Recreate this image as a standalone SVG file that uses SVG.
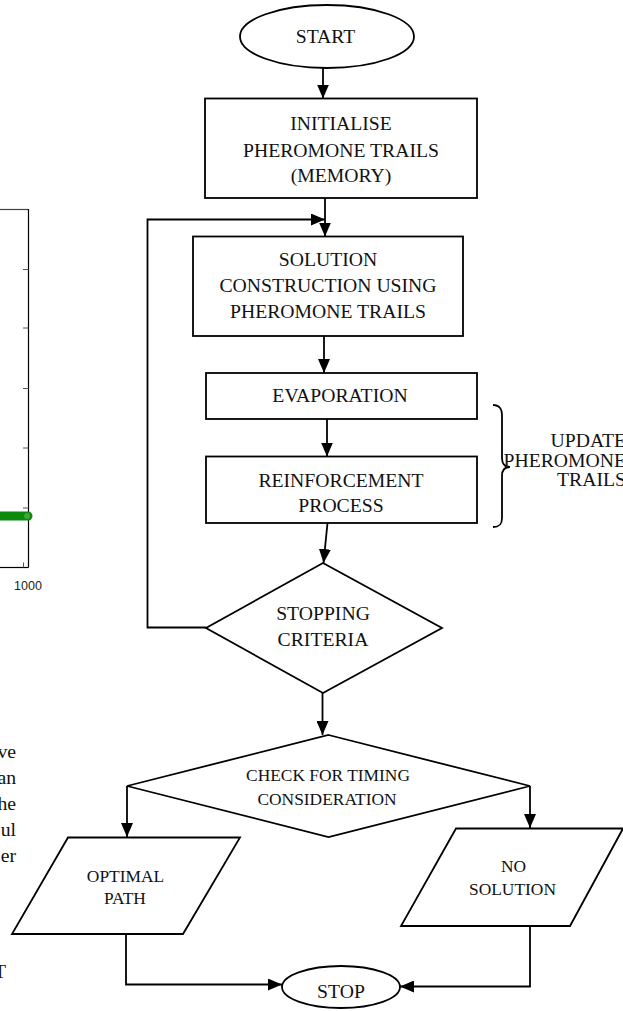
<svg xmlns="http://www.w3.org/2000/svg" width="623" height="1011" viewBox="0 0 623 1011">
  <defs>
    <marker id="arrow" markerUnits="userSpaceOnUse" markerWidth="14" markerHeight="12" refX="14" refY="6" orient="auto">
      <path d="M0,0 L14,6 L0,12 z" fill="#000"/>
    </marker>
    <style>
      .shape { fill: #fff; stroke: #000; stroke-width: 1.8; }
      .conn { fill: none; stroke: #000; stroke-width: 1.8; marker-end: url(#arrow); }
      .plain { fill: none; stroke: #000; stroke-width: 1.8; }
      .lbl { font-family: "Liberation Serif", "Times New Roman", serif; font-size: 19.7px; fill: #111; text-anchor: middle; }
      .sm { font-size: 17.4px; }
      .body { font-family: "Liberation Serif", "Times New Roman", serif; font-size: 19.7px; fill: #111; text-anchor: end; }
      .axis { stroke: #000; stroke-width: 1.2; fill: none; }
      .tick { stroke: #555; stroke-width: 1; }
    </style>
  </defs>
  <rect width="623" height="1011" fill="#fff"/>

  <!-- partial chart at the left margin -->
  <g id="chart-fragment">
    <line x1="0" y1="209.5" x2="28.5" y2="209.5" stroke="#444" stroke-width="1.2"/>
    <line class="axis" x1="28.5" y1="209" x2="28.5" y2="567.5"/>
    <line class="axis" x1="0" y1="567.5" x2="28.5" y2="567.5"/>
    <line class="tick" x1="23" y1="269.5" x2="28.5" y2="269.5"/>
    <line class="tick" x1="23" y1="328" x2="28.5" y2="328"/>
    <line class="tick" x1="23" y1="388.5" x2="28.5" y2="388.5"/>
    <line class="tick" x1="23" y1="448" x2="28.5" y2="448"/>
    <line class="tick" x1="23" y1="508" x2="28.5" y2="508"/>
    <line class="tick" x1="23.5" y1="562.5" x2="23.5" y2="567.5"/>
    <line x1="0" y1="516" x2="28" y2="516" stroke="#0b8a0b" stroke-width="9" stroke-linecap="round"/>
    <circle cx="27" cy="516" r="3" fill="#3aa83a"/>
    <text x="28" y="590" font-family="Liberation Sans, Arial, sans-serif" font-size="12.5" text-anchor="middle" fill="#222">1000</text>
  </g>

  <!-- line endings of the neighbouring paragraph -->
  <g id="paragraph-fragment">
    <text class="body" x="16" y="758">ve</text>
    <text class="body" x="16" y="784">an</text>
    <text class="body" x="16" y="810">he</text>
    <text class="body" x="16" y="836">ul</text>
    <text class="body" x="16" y="862">er</text>
    <text class="lbl" x="0" y="978">T</text>
  </g>

  <!-- connectors -->
  <g id="connectors">
    <line class="conn" x1="323" y1="68" x2="323" y2="98.5"/>
    <line class="conn" x1="325" y1="198" x2="325" y2="236.5"/>
    <polyline class="conn" points="206,627.5 147.5,627.5 147.5,219.5 325,219.5"/>
    <line class="conn" x1="324" y1="336" x2="324" y2="373"/>
    <line class="conn" x1="327" y1="419" x2="327" y2="456.5"/>
    <line class="conn" x1="327.5" y1="523" x2="323.5" y2="563"/>
    <line class="conn" x1="322.5" y1="693" x2="322.5" y2="735"/>
    <polyline class="conn" points="127,786 127,837"/>
    <polyline class="conn" points="530,786 530,828"/>
    <polyline class="conn" points="126,934 126,984.5 282,984.5"/>
    <polyline class="conn" points="530,926 530,986.5 400,986.5"/>
  </g>

  <g id="start">
    <ellipse class="shape" cx="327" cy="36.5" rx="87" ry="31.5"/>
    <text class="lbl" x="325.5" y="43">START</text>
  </g>

  <g id="initialise">
    <rect class="shape" x="205" y="98.5" width="272" height="99.5"/>
    <text class="lbl" x="341" y="130">INITIALISE</text>
    <text class="lbl" x="341" y="157">PHEROMONE TRAILS</text>
    <text class="lbl" x="341" y="182">(MEMORY)</text>
  </g>

  <g id="construction">
    <rect class="shape" x="193" y="236.5" width="270" height="99.5"/>
    <text class="lbl" x="328" y="265.5">SOLUTION</text>
    <text class="lbl" x="328" y="291.5">CONSTRUCTION USING</text>
    <text class="lbl" x="328" y="317.5">PHEROMONE TRAILS</text>
  </g>

  <g id="evaporation">
    <rect class="shape" x="206" y="373" width="271" height="46"/>
    <text class="lbl" x="340" y="402">EVAPORATION</text>
  </g>

  <g id="reinforcement">
    <rect class="shape" x="206" y="456.5" width="271" height="66.5"/>
    <text class="lbl" x="341" y="487">REINFORCEMENT</text>
    <text class="lbl" x="341" y="512">PROCESS</text>
  </g>

  <g id="update-brace">
    <path class="plain" stroke-width="1.6" d="M493,405 C500,405 502,409 502,416 L502,458 C502,464 505,467 510,467 C505,467 502,470 502,476 L502,518 C502,524 500,527 493,527"/>
    <text class="body" x="626" y="447">UPDATE</text>
    <text class="body" x="626" y="466.5">PHEROMONE</text>
    <text class="body" x="626" y="486">TRAILS</text>
  </g>

  <g id="stopping">
    <polygon class="shape" points="323,563 442,628 323,693 206,628"/>
    <text class="lbl" x="323" y="620">STOPPING</text>
    <text class="lbl" x="323" y="646">CRITERIA</text>
  </g>

  <g id="timing">
    <polygon class="shape" points="328.5,735 530,786 328.5,837 127,786"/>
    <text class="lbl sm" x="328" y="781">CHECK FOR TIMING</text>
    <text class="lbl sm" x="327" y="804.5">CONSIDERATION</text>
  </g>

  <g id="optimal-path">
    <polygon class="shape" points="68,837.5 240,837.5 183,934 12,934"/>
    <text class="lbl sm" x="125.5" y="882">OPTIMAL</text>
    <text class="lbl sm" x="125" y="903.5">PATH</text>
  </g>

  <g id="no-solution">
    <polygon class="shape" points="456,828.5 623,828.5 570,926 401,926"/>
    <text class="lbl sm" x="513.5" y="872">NO</text>
    <text class="lbl sm" x="512.5" y="895">SOLUTION</text>
  </g>

  <g id="stop">
    <ellipse class="shape" cx="341" cy="987" rx="59" ry="21"/>
    <text class="lbl" x="341" y="998">STOP</text>
  </g>
</svg>
